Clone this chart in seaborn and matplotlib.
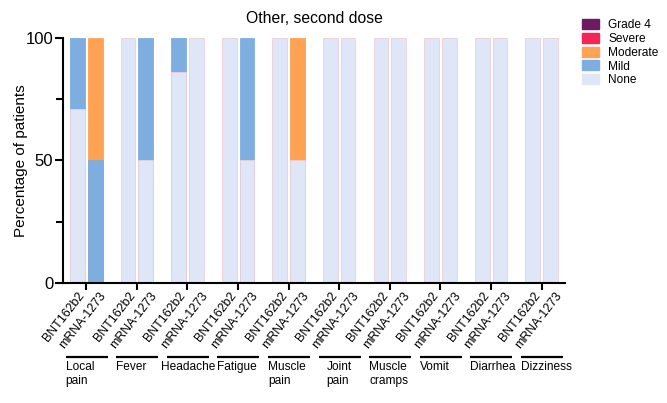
import matplotlib
matplotlib.use("Agg")
import matplotlib.pyplot as plt
import matplotlib.patches as mpatches
import seaborn as sns
import pandas as pd
import numpy as np

# ---- data ----
symptoms = ["Local pain", "Fever", "Headache", "Fatigue", "Muscle pain",
            "Joint pain", "Muscle cramps", "Vomit", "Diarrhea", "Dizziness"]
group_labels = ["Local\npain", "Fever", "Headache", "Fatigue", "Muscle\npain",
                "Joint\npain", "Muscle\ncramps", "Vomit", "Diarrhea", "Dizziness"]
vaccines = ["BNT162b2", "mRNA-1273"]
severities = ["None", "Mild", "Moderate", "Severe", "Grade 4"]

# percentages per symptom, [BNT162b2, mRNA-1273]
none_pct     = [[71, 0], [100, 50], [86, 100], [100, 50], [100, 50],
                [100, 100], [100, 100], [100, 100], [100, 100], [100, 100]]
mild_pct     = [[29, 50], [0, 50], [14, 0], [0, 50], [0, 0],
                [0, 0], [0, 0], [0, 0], [0, 0], [0, 0]]
moderate_pct = [[0, 50], [0, 0], [0, 0], [0, 0], [0, 50],
                [0, 0], [0, 0], [0, 0], [0, 0], [0, 0]]
severe_pct   = [[0, 0]] * 10
grade4_pct   = [[0, 0]] * 10

colors = {"Grade 4": "#6E1A63", "Severe": "#F72458", "Moderate": "#FFA254",
          "Mild": "#7EAEDF", "None": "#DEE6F7"}

rows = []
for i, s in enumerate(symptoms):
    for j, v in enumerate(vaccines):
        vals = {"None": none_pct[i][j], "Mild": mild_pct[i][j],
                "Moderate": moderate_pct[i][j], "Severe": severe_pct[i][j],
                "Grade 4": grade4_pct[i][j]}
        cum = 0
        rec = {"symptom": s, "vaccine": v}
        for sev in severities:
            cum += vals[sev]
            rec["cum_" + sev] = cum
        rows.append(rec)
df = pd.DataFrame(rows)

plt.rcParams["font.family"] = ["Liberation Sans", "DejaVu Sans"]
fig = plt.figure(figsize=(6.67, 4.03), dpi=100)
ax = fig.add_axes([0.0945, 0.298, 0.7525, 0.608])

# draw cumulative layers from top category down so lower ones overlay
for sev in reversed(severities):
    if sev == "None":
        sub = df[df["cum_None"] > 0]
    else:
        prev = severities[severities.index(sev) - 1]
        sub = df[df["cum_" + sev] > df["cum_" + prev]]
    if sub.empty:
        continue
    sns.barplot(data=sub, x="symptom", y="cum_" + sev, hue="vaccine",
                order=symptoms, hue_order=vaccines,
                palette=[colors[sev], colors[sev]], dodge=True,
                width=0.7, gap=0.17, legend=False, ax=ax,
                edgecolor="#EBCFD8" if sev == "None" else colors[sev],
                linewidth=0.6, saturation=1, errorbar=None)

ax.set_xlim(-0.46, 9.46)
ax.set_ylim(0, 100)
ax.set_yticks([0, 50, 100])
ax.set_yticks([25, 75], minor=True)
ax.set_xticks(range(len(symptoms)))
ax.set_xticklabels([""] * len(symptoms))
ax.set_xlabel("")
ax.set_ylabel("Percentage of patients", fontsize=11)
ax.yaxis.set_label_coords(-0.070, 0.5)
ax.set_title("Other, second dose", fontsize=11.3, pad=11)

for side in ["top", "right"]:
    ax.spines[side].set_visible(False)
for side in ["left", "bottom"]:
    ax.spines[side].set_linewidth(1.5)
    ax.spines[side].set_color("black")
ax.tick_params(axis="y", which="major", length=6, width=1.5, labelsize=12, pad=1)
ax.tick_params(axis="y", which="minor", length=5, width=1.5)
ax.tick_params(axis="x", which="major", length=5, width=1.5)

# rotated vaccine labels
trans = ax.get_xaxis_transform()
label_shift = [0.19, 0.27]
text_shift = [0.0, 0.0, -0.12, 0.0, 0.0, 0.16, 0.0, 0.0, 0.0, 0.0]
for i in range(len(symptoms)):
    for j, v in enumerate(vaccines):
        xoff = -0.175 + 0.35 * j + label_shift[j]
        ax.text(i + xoff, -0.030, v, rotation=52, ha="right", va="top",
                rotation_mode="default", fontsize=8.9, transform=trans)
    ax.plot([i - 0.41, i + 0.42], [-0.302, -0.302], color="black", lw=1.6,
            transform=trans, clip_on=False, solid_capstyle="butt")
    ax.text(i - 0.41 + text_shift[i], -0.318, group_labels[i], ha="left",
            va="top", multialignment="left", fontsize=8.6, transform=trans,
            linespacing=1.2)

handles = [mpatches.Patch(facecolor=colors[s], edgecolor=colors[s], label=s)
           for s in reversed(severities)]
fig.legend(handles=handles, loc="upper left", bbox_to_anchor=(0.866, 0.965),
           frameon=False, fontsize=8.6, handlelength=1.4, handleheight=0.9,
           labelspacing=0.15, handletextpad=0.75, borderaxespad=0)

fig.savefig("out.png", dpi=100)
